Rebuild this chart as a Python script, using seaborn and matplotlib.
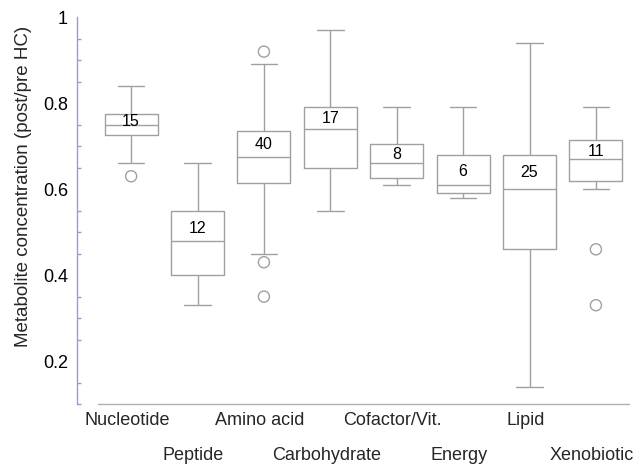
import numpy as np
import pandas as pd
import matplotlib
matplotlib.use("Agg")
import matplotlib.pyplot as plt
import matplotlib.transforms as mtransforms
import seaborn as sns
from matplotlib.ticker import MultipleLocator, FixedLocator

categories = ["Nucleotide", "Peptide", "Amino acid", "Carbohydrate",
              "Cofactor/Vit.", "Energy", "Lipid", "Xenobiotic"]
counts = [15, 12, 40, 17, 8, 6, 25, 11]
whisker_low = [0.66, 0.33, 0.45, 0.55, 0.61, 0.58, 0.14, 0.60]
q1 = [0.725, 0.40, 0.615, 0.65, 0.625, 0.59, 0.46, 0.62]
median = [0.75, 0.48, 0.675, 0.74, 0.66, 0.61, 0.60, 0.67]
q3 = [0.775, 0.55, 0.735, 0.79, 0.705, 0.68, 0.68, 0.715]
whisker_high = [0.84, 0.66, 0.89, 0.97, 0.79, 0.79, 0.94, 0.79]
outlier_cat = ["Nucleotide", "Amino acid", "Amino acid", "Amino acid",
               "Xenobiotic", "Xenobiotic"]
outlier_val = [0.63, 0.92, 0.43, 0.35, 0.46, 0.33]

# five-number summaries as long-form data (exact quartiles for n=5)
rows = []
for c, a, b, m, d, e in zip(categories, whisker_low, q1, median, q3, whisker_high):
    for v in (a, b, m, d, e):
        rows.append({"category": c, "value": v})
df = pd.DataFrame(rows)
df_out = pd.DataFrame({"category": outlier_cat, "value": outlier_val})

sns.set_style("white")
plt.rcParams["font.family"] = ["Liberation Sans", "DejaVu Sans"]

fig = plt.figure(figsize=(6.4, 4.65), dpi=100)
ax = fig.add_axes([0.153, 0.131, 0.83, 0.832])

line_c = "#a0a0a0"
sns.boxplot(data=df, x="category", y="value", order=categories, whis=np.inf,
            width=0.8, fill=False, color=line_c, linewidth=1.0,
            linecolor=line_c, ax=ax,
            boxprops=dict(color=line_c), whiskerprops=dict(color=line_c),
            capprops=dict(color=line_c), medianprops=dict(color=line_c, linewidth=1.0))

sns.stripplot(data=df_out, x="category", y="value", order=categories,
              jitter=False, marker="o", size=8, color="white",
              edgecolor=line_c, linewidth=1.0, ax=ax, zorder=5)
for coll in ax.collections:
    coll.set_facecolor("none")
    coll.set_edgecolor(line_c)

label_y = [0.757, 0.509, 0.704, 0.764, 0.68, 0.641, 0.638, 0.688]
for i, (n, y) in enumerate(zip(counts, label_y)):
    ax.text(i, y, str(n), ha="center", va="center", fontsize=11.5, color="black")

ax.set_xlim(-0.5, 7.5)
ax.set_ylim(0.1, 1.0)
ax.set_xlabel("")
ax.set_ylabel("Metabolite concentration (post/pre HC)", fontsize=13.5)
ax.yaxis.set_label_coords(-0.125, 0.562)

ax.set_xticks(range(len(categories)))
ax.set_xticklabels(categories, fontsize=13, va="top")
ax.tick_params(axis="x", length=0, pad=6)
offset = mtransforms.ScaledTranslation(0, -0.35, fig.dpi_scale_trans)
shift = mtransforms.ScaledTranslation(-0.04, 0, fig.dpi_scale_trans)
for i, lab in enumerate(ax.get_xticklabels()):
    tr = lab.get_transform() + shift
    if i % 2 == 1:
        tr = tr + offset
    lab.set_transform(tr)

ax.yaxis.set_major_locator(FixedLocator([0.2, 0.4, 0.6, 0.8, 1.0]))
ax.set_yticklabels(["0.2", "0.4", "0.6", "0.8", "1"])
ax.yaxis.set_minor_locator(MultipleLocator(0.05))
tick_c = "#9a9ad8"
ax.tick_params(axis="y", which="major", direction="in", length=6, width=1,
               color=tick_c, pad=6.5, labelsize=13, labelcolor="black")
ax.tick_params(axis="y", which="minor", direction="in", length=3, width=1,
               color=tick_c, left=True)

for s in ("top", "right"):
    ax.spines[s].set_visible(False)
ax.spines["left"].set_position(("outward", 15))
ax.spines["left"].set_color(tick_c)
ax.spines["left"].set_linewidth(1)
ax.spines["bottom"].set_color("#b0b0b0")
ax.spines["bottom"].set_linewidth(1)

fig.savefig("out.png", dpi=100)
